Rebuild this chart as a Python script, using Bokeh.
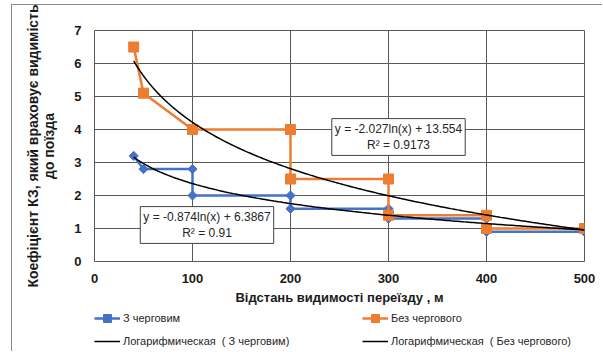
import numpy as np
from bokeh.plotting import figure
from bokeh.layouts import column
from bokeh.models import (Legend, LegendItem, Label, FixedTicker, Range1d)
from bokeh.embed import file_html
from bokeh.resources import INLINE

# ---- data ----
x_with = [40, 50, 100, 100, 200, 200, 300, 300, 400, 400, 500]
y_with = [3.2, 2.8, 2.8, 2.0, 2.0, 1.6, 1.6, 1.3, 1.3, 0.9, 0.9]
x_without = [40, 50, 100, 200, 200, 300, 300, 400, 400, 500]
y_without = [6.5, 5.1, 4.0, 4.0, 2.5, 2.5, 1.4, 1.4, 1.0, 1.0]

# trendline coefficients (as shown on the chart): y = a*ln(x) + b
a_with, b_with = -0.874, 6.3867
a_without, b_without = -2.027, 13.554
r2_with, r2_without = "0.91", "0.9173"

x_ticks = [0, 100, 200, 300, 400, 500]
y_ticks = [0, 1, 2, 3, 4, 5, 6, 7]

name_with = "З черговим"
name_without = "Без чергового"
trend_with = "Логарифмическая  ( З черговим)"
trend_without = "Логарифмическая  ( Без чергового)"
x_title = "Відстань видимості переїзду , м"
y_title = "Коефіцієнт КЗ, який враховує видимість\nдо поїзда"

BLUE = "#4472C4"
ORANGE = "#ED7D31"
GRID = "#595959"
FONT = "Liberation Sans"
EDGE = "#8c8c8c"

p = figure(width=602, height=308, output_backend="svg", toolbar_location=None,
           x_range=Range1d(0, 500), y_range=Range1d(0, 7),
           min_border_left=94, min_border_right=18, min_border_top=30, min_border_bottom=47)
p.outline_line_color = GRID
p.background_fill_color = "white"
p.border_fill_alpha = 0
# outer chart-area edge (left and top), drawn behind the transparent border area
p.styles = {"background": (f"linear-gradient({EDGE},{EDGE}) 11px 4px / 1px 100% no-repeat, "
                           f"linear-gradient({EDGE},{EDGE}) 11px 4px / 100% 1px no-repeat, white")}

for ax in (p.xaxis[0], p.yaxis[0]):
    ax.axis_line_color = None
    ax.major_tick_line_color = None
    ax.minor_tick_line_color = None
    ax.major_tick_out = 0
    ax.major_tick_in = 0
    ax.major_label_text_font = FONT
    ax.major_label_text_font_style = "bold"
    ax.major_label_text_font_size = "13px"
    ax.major_label_text_color = "#1a1a1a"
    ax.axis_label_text_font = FONT
    ax.axis_label_text_font_style = "bold"
    ax.axis_label_text_color = "#1a1a1a"
p.xaxis[0].ticker = FixedTicker(ticks=x_ticks)
p.yaxis[0].ticker = FixedTicker(ticks=y_ticks)
p.xaxis[0].major_label_standoff = 12
p.yaxis[0].major_label_standoff = 13
p.xaxis[0].axis_label = x_title
p.xaxis[0].axis_label_text_font_size = "13px"
p.xaxis[0].axis_label_standoff = 4
p.yaxis[0].axis_label = y_title
p.yaxis[0].axis_label_text_font_size = "14px"
p.yaxis[0].axis_label_text_line_height = 1.0
p.yaxis[0].axis_label_standoff = 14

p.xgrid.ticker = FixedTicker(ticks=x_ticks)
p.ygrid.ticker = FixedTicker(ticks=y_ticks)
for g in (p.xgrid[0], p.ygrid[0]):
    g.grid_line_color = GRID
    g.grid_line_width = 1

# series
blue_line = dict(line_color=BLUE, line_width=2.5)
blue_mark = dict(marker="square", angle=np.pi / 4, size=6.5, fill_color=BLUE, line_color=BLUE)
orange_line = dict(line_color=ORANGE, line_width=2.5)
orange_mark = dict(marker="square", size=10, fill_color=ORANGE, line_color=ORANGE)
trend_line = dict(line_color="black", line_width=1.5)

p.line(x_with, y_with, **blue_line)
p.scatter(x_with, y_with, **blue_mark)
p.line(x_without, y_without, **orange_line)
p.scatter(x_without, y_without, **orange_mark)

# logarithmic trendlines
xt_with = np.linspace(min(x_with), max(x_with), 200)
xt_wo = np.linspace(min(x_without), max(x_without), 200)
yt_with = a_with * np.log(xt_with) + b_with
yt_wo = a_without * np.log(xt_wo) + b_without
p.line(xt_with, yt_with, **trend_line)
p.line(xt_wo, yt_wo, **trend_line)

# equation boxes
eq_style = dict(x_units="screen", y_units="screen", text_align="center",
                text_baseline="middle", text_font=FONT, text_font_size="12px",
                text_color="#262626", border_line_color="#404040", border_line_width=1,
                background_fill_color="white", padding=3)
p.add_layout(Label(x=304, y=124.5,
                   text=f"y = {a_without}ln(x) + {b_without}\nR² = {r2_without}", **eq_style))
p.add_layout(Label(x=112.5, y=36.5,
                   text=f"y = {a_with}ln(x) + {b_with}\nR² = {r2_with}", **eq_style))

# legend strip: a small companion figure whose (off-range) renderers feed the legend
pl = figure(width=602, height=43, output_backend="svg", toolbar_location=None,
            min_border=0, x_range=Range1d(10000, 10001), y_range=Range1d(10000, 10001))
pl.axis.visible = False
pl.grid.visible = False
pl.outline_line_color = None
pl.border_fill_alpha = 0
pl.background_fill_alpha = 0
pl.styles = {"background": f"linear-gradient({EDGE},{EDGE}) 11px 0 / 1px 100% no-repeat, white"}
lg_with = pl.line(x_with, y_with, **blue_line)
lg_with_m = pl.scatter(x_with, y_with, **blue_mark)
lg_wo = pl.line(x_without, y_without, **orange_line)
lg_wo_m = pl.scatter(x_without, y_without, **orange_mark)
lg_t1 = pl.line(xt_with, yt_with, **trend_line)
lg_t2 = pl.line(xt_wo, yt_wo, **trend_line)

legend = Legend(items=[
    LegendItem(label=name_with, renderers=[lg_with, lg_with_m]),
    LegendItem(label=trend_with, renderers=[lg_t1]),
    LegendItem(label=name_without, renderers=[lg_wo, lg_wo_m]),
    LegendItem(label=trend_without, renderers=[lg_t2]),
], location=(0, 0), orientation="vertical", ncols=2,
    glyph_width=26, glyph_height=20, label_standoff=3, label_width=236,
    spacing=3, padding=0, margin=0, border_line_color=None, background_fill_alpha=0,
    label_text_font=FONT, label_text_font_size="11px", label_text_color="#262626")
pl.add_layout(legend)

layout = column(p, pl, spacing=0)
open("out.html", "w").write(file_html(layout, INLINE))
